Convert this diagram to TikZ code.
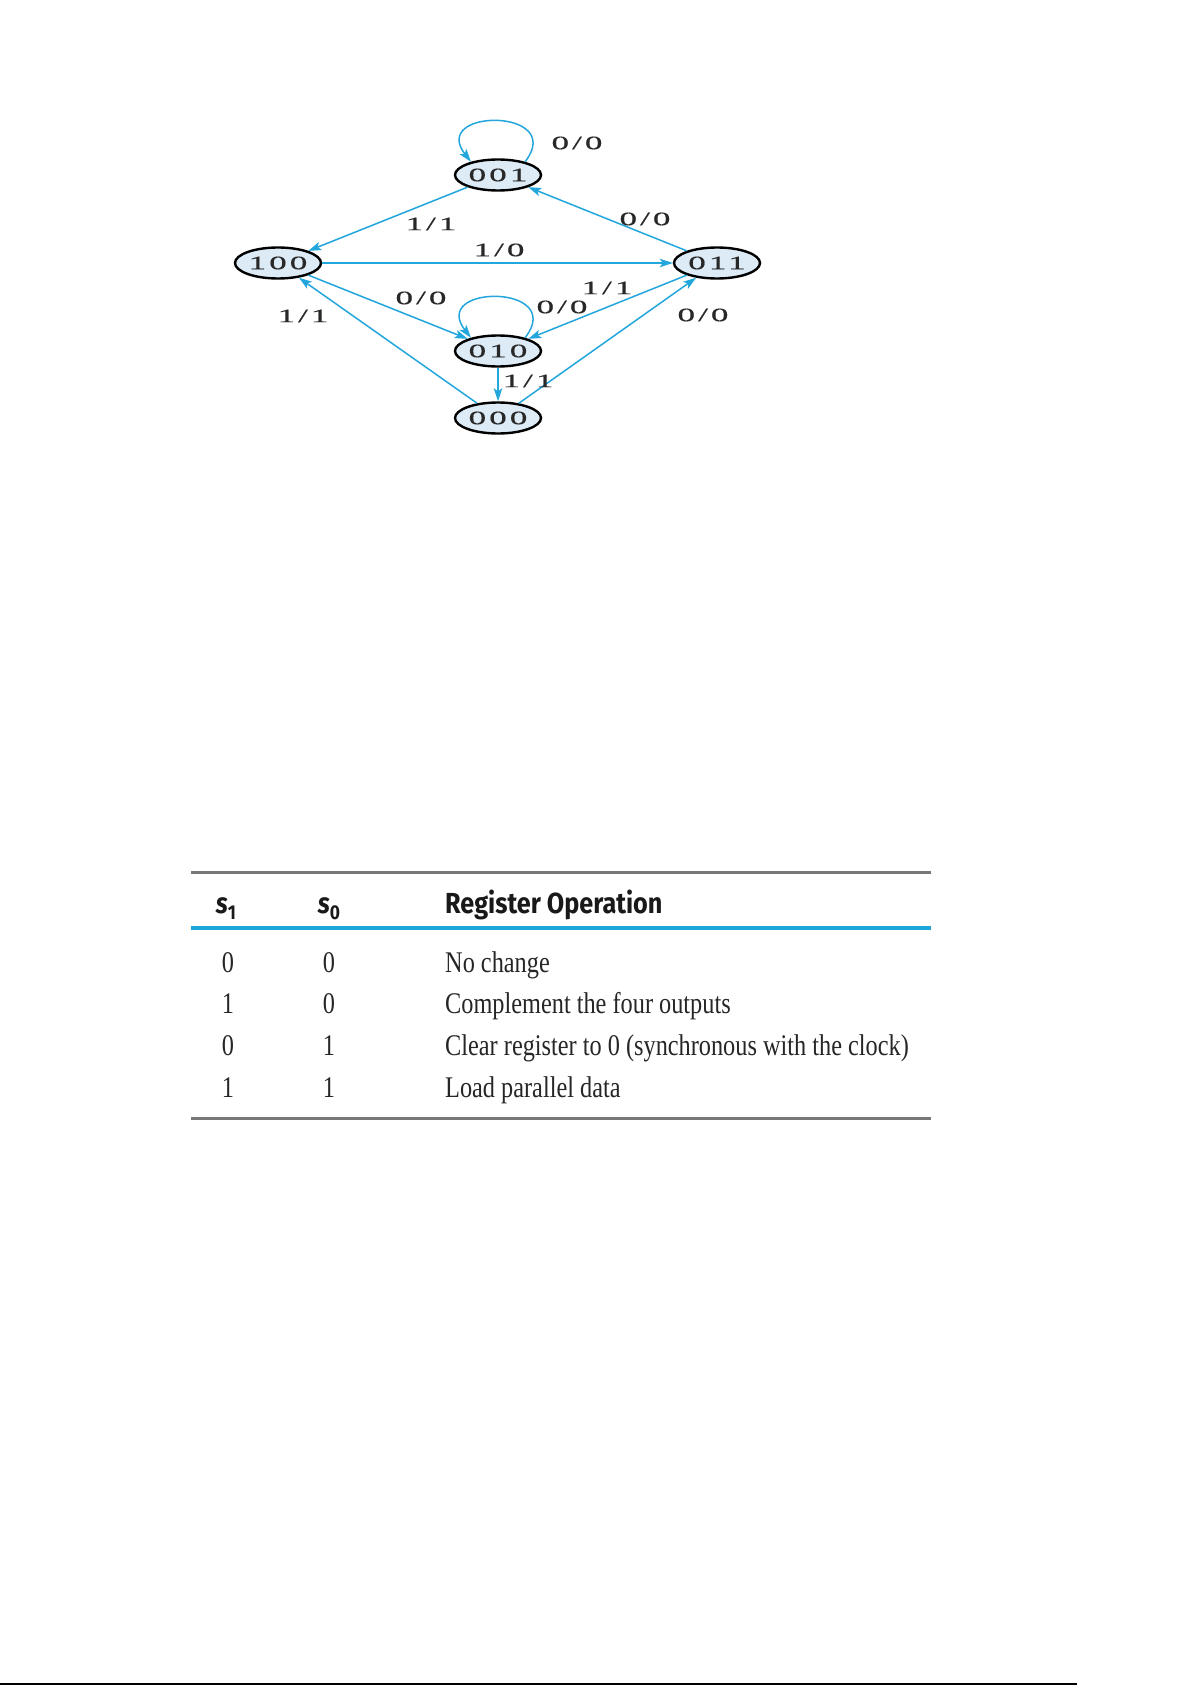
\documentclass[tikz,border=0pt]{standalone}
\usepackage{fontspec}
\setmainfont{Liberation Serif}
\newfontfamily\lblfont[FakeStretch=1.85,LetterSpace=16,FakeBold=0.6]{Liberation Serif}
\newfontfamily\tabfont[FakeStretch=0.81]{Liberation Serif}
\newfontfamily\hdfont[FakeStretch=0.87]{Fira Sans}
\usetikzlibrary{shapes.geometric,arrows.meta}
\definecolor{arrowblue}{RGB}{35,166,220}
\definecolor{statefill}{RGB}{221,235,247}
\definecolor{rulegray}{RGB}{120,120,120}
\definecolor{tabblue}{RGB}{30,165,215}
\definecolor{lbltext}{RGB}{40,40,40}
\begin{document}
\begin{tikzpicture}[x=1pt,y=-1pt,
  state/.style={ellipse,draw=black,line width=2.4pt,fill=statefill,minimum width=86pt,minimum height=31pt,inner sep=0pt,text=lbltext,font=\lblfont\fontsize{19}{19}\selectfont},
  trans/.style={draw=arrowblue,line width=1.5pt,-{Stealth[length=13pt,width=8.5pt,inset=3pt]}},
  elabel/.style={font=\lblfont\fontsize{19}{19}\selectfont,inner sep=0pt,text=lbltext},
  tabtxt/.style={font=\tabfont\fontsize{30}{30}\selectfont,inner sep=0pt,text=black!85},
  tabhead/.style={font=\hdfont\bfseries\fontsize{29}{29}\selectfont,inner sep=0pt,text=black!90},
  grayrule/.style={draw=rulegray,line width=3pt},
  bluerule/.style={draw=tabblue,line width=4pt}]
\useasboundingbox (0,0) rectangle (1192,1685);

% states
\node[state] (s001) at (498,175) {001};
\node[state] (s100) at (278,263) {100};
\node[state] (s011) at (717,263) {011};
\node[state] (s010) at (498,351) {010};
\node[state] (s000) at (498,418) {000};

% transitions
\draw[trans] (s001) -- (s100);
\draw[trans] (s011) -- (s001);
\draw[trans] (s100) -- (s011);
\draw[trans] (s100) -- (s010);
\draw[trans] (s011) -- (s010);
\draw[trans] (s000) -- (s100);
\draw[trans] (s000) -- (s011);
\draw[trans] (s010) -- (s000);
\draw[trans] (s001.26) .. controls +(42,-54) and +(-42,-54) .. (s001.154);
\draw[trans] (s010.26) .. controls +(42,-54) and +(-42,-54) .. (s010.154);

% transition labels
\node[elabel] (l1) at (577,143) {0/0};
\node[elabel] (l2) at (431,224) {1/1};
\node[elabel] (l3) at (645,219) {0/0};
\node[elabel] (l4) at (499,250) {1/0};
\node[elabel] (l5) at (421,298) {0/0};
\node[elabel] (l6) at (562,307) {0/0};
\node[elabel] (l7) at (607,288) {1/1};
\node[elabel] (l8) at (303,316) {1/1};
\node[elabel] (l9) at (703,315) {0/0};
\node[elabel] (l10) at (528,381) {1/1};

% table
\draw[grayrule] (191,872) -- (931,872);
\draw[bluerule] (191,928) -- (931,928);
\draw[grayrule] (191,1118) -- (931,1118);

\node[tabhead,anchor=base] (h1) at (226,913) {\itshape s\upshape\raisebox{-6pt}{\fontsize{20}{20}\selectfont 1}};
\node[tabhead,anchor=base] (h2) at (329,913) {\itshape s\upshape\raisebox{-6pt}{\fontsize{20}{20}\selectfont 0}};
\node[tabhead,anchor=base west] (h3) at (445,913) {Register Operation};

\node[tabtxt,anchor=base] (r1a) at (228,972) {0};
\node[tabtxt,anchor=base] (r1b) at (329,972) {0};
\node[tabtxt,anchor=base west] (r1c) at (445,972) {No change};
\node[tabtxt,anchor=base] (r2a) at (228,1013.5) {1};
\node[tabtxt,anchor=base] (r2b) at (329,1013.5) {0};
\node[tabtxt,anchor=base west] (r2c) at (445,1013.5) {Complement the four outputs};
\node[tabtxt,anchor=base] (r3a) at (228,1055) {0};
\node[tabtxt,anchor=base] (r3b) at (329,1055) {1};
\node[tabtxt,anchor=base west] (r3c) at (445,1055) {Clear register to 0 (synchronous with the clock)};
\node[tabtxt,anchor=base] (r4a) at (228,1097) {1};
\node[tabtxt,anchor=base] (r4b) at (329,1097) {1};
\node[tabtxt,anchor=base west] (r4c) at (445,1097) {Load parallel data};

% bottom page line
\draw[black,line width=1.5pt] (0,1684) -- (1077,1684);
\end{tikzpicture}
\end{document}
